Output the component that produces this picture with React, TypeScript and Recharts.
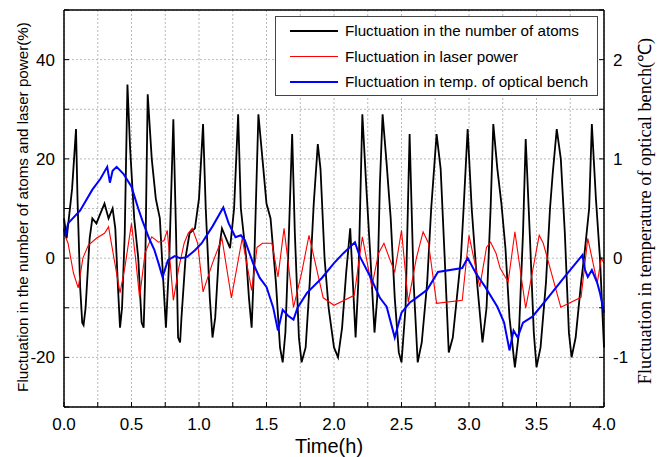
import React from "react";
import {
  LineChart,
  Line,
  XAxis,
  YAxis,
  CartesianGrid,
  Legend,
} from "recharts";

// time (h) and fluctuation (%)
const atomsTime = [
  0.0, 0.02, 0.04, 0.06, 0.089, 0.1, 0.12, 0.135, 0.145, 0.16, 0.19, 0.21, 0.24, 0.27, 0.3, 0.33, 0.36, 0.38, 0.4,
  0.415, 0.43, 0.45, 0.47, 0.49, 0.52, 0.55, 0.575, 0.59, 0.6, 0.62, 0.65, 0.68, 0.71, 0.73, 0.755, 0.78, 0.81,
  0.83, 0.845, 0.86, 0.87, 0.9, 0.93, 0.97, 1.0, 1.03, 1.05, 1.08, 1.1, 1.12, 1.15, 1.17, 1.2, 1.23, 1.26, 1.29,
  1.31, 1.35, 1.37, 1.39, 1.41, 1.44, 1.47, 1.5, 1.53, 1.57, 1.6, 1.62, 1.64, 1.66, 1.69, 1.71, 1.74, 1.76,
  1.79, 1.82, 1.85, 1.88, 1.9, 1.93, 1.96, 2.0, 2.03, 2.06, 2.09, 2.12, 2.14, 2.16, 2.18, 2.21, 2.24, 2.27,
  2.3, 2.32, 2.34, 2.36, 2.39, 2.42, 2.45, 2.48, 2.5, 2.53, 2.56, 2.59, 2.62, 2.65, 2.69, 2.72, 2.76, 2.79,
  2.82, 2.85, 2.88, 2.91, 2.94, 2.96, 2.99, 3.02, 3.06, 3.1, 3.13, 3.16, 3.18, 3.21, 3.24, 3.27, 3.3, 3.34,
  3.37, 3.4, 3.42, 3.45, 3.48, 3.5, 3.53, 3.57, 3.6, 3.62, 3.65, 3.68, 3.71, 3.74, 3.76, 3.79, 3.83, 3.86,
  3.89, 3.91, 3.94, 3.97, 4.0,
];
const atomsValue = [
  8, 4, 9, 14, 26, 12, -6, -13, -13.5, -10, 4, 8, 7, 9, 11, 8, 10, 6, -6,
  -14, -10, 5, 35, 22, 8, 0, -13, -14, -5, 33, 20, 12, 8, -2, -14, 0, 28,
  5, -16, -17, -12, 0, 5, 6, 12, 27, 10, -8, -16, -12, 2, 6, 4, 2, 10, 29,
  10, 0, -8, -14, 0, 29, 20, 11, 8, -5, -18, -21, -15, 0, 25, 5, -16, -21,
  -18, -5, 11, 23, 18, 0, -10, -18, -20, -14, -3, 6, -5, -16, -5, 29, 14, 0,
  -15, -8, 15, 29, 19, 8, -8, -19, -21, -10, 25, -5, -21, -17, -5, 10, 25, 18,
  0, -19, -16, -8, 0, 10, 26, 10, -5, -17, -10, 10, 27, 18, 11, 2, -12, -22,
  -15, 5, 24, 5, -15, -22, -18, -5, 10, 17, 26, 20, 5, -15, -20, -16, -5, 2,
  10, 27, 12, 0, -18,
];

const laserTime = [
  0.0, 0.03, 0.07, 0.105, 0.14, 0.18, 0.24, 0.3, 0.33, 0.37, 0.415, 0.45, 0.5, 0.53, 0.56, 0.6, 0.65, 0.7,
  0.74, 0.765, 0.79, 0.81, 0.85, 0.89, 0.92, 0.95, 0.99, 1.03, 1.1, 1.17, 1.24, 1.32, 1.39, 1.43, 1.47,
  1.54, 1.585, 1.63, 1.7, 1.76, 1.815, 1.87, 1.92, 2.0, 2.15, 2.21, 2.28, 2.33, 2.37, 2.41, 2.45, 2.5,
  2.55, 2.61, 2.66, 2.7, 2.76, 2.95, 3.0, 3.08, 3.13, 3.16, 3.2, 3.23, 3.29, 3.34, 3.42, 3.52, 3.55, 3.68,
  3.83, 3.88, 3.95, 3.98, 4.0,
];
const laserValue = [
  5, 3, -3, -6, 0, 2.6, 4, 5, 6.3, 0, -7, -2, 7, 0, -8, 1, 4.3, 3.2,
  3.5, 5.6, -2, -8.5, -2, 3, 5, 6, 3, -6.8, -1, 4, -8, 4, -6.5, 2.2, 3,
  3, -3.8, 6, -9.9, -3, 4.6, -2, -8, -9.5, -7.5, 4.3, -5.8, 1, 3, 0, -2.8, 5.6,
  -8.9, 0, 5.3, 3, -9.1, -8.5, 4.6, -5.8, 2.2, 3.2, 1, -2, -4.8, 5.3, -10.1, 4.6, 3, -9.9,
  -7.9, 4, -5, 0, -1,
];

// optical bench temperature (°C), right axis
const benchTime = [
  0.0, 0.01, 0.03, 0.12, 0.21, 0.27, 0.32, 0.34, 0.36, 0.39, 0.44, 0.5, 0.55, 0.58, 0.63, 0.67, 0.7, 0.73,
  0.77, 0.82, 0.86, 0.91, 0.97, 1.02, 1.1, 1.18, 1.22, 1.27, 1.31, 1.34, 1.4, 1.45, 1.5, 1.55, 1.585, 1.62,
  1.66, 1.7, 1.73, 1.8, 1.91, 2.0, 2.07, 2.155, 2.19, 2.27, 2.34, 2.39, 2.45, 2.5, 2.56, 2.61, 2.69, 2.77,
  2.95, 2.99, 3.05, 3.12, 3.21, 3.26, 3.3, 3.33, 3.36, 3.4, 3.47, 3.59, 3.69, 3.84, 3.86, 3.88, 3.91, 3.95,
  3.97, 4.0,
];
const benchValue = [
  0.3, 0.22, 0.35, 0.48, 0.69, 0.8, 0.92, 0.76, 0.88, 0.92, 0.85, 0.72, 0.5, 0.38, 0.2, 0.08, -0.05, -0.19,
  -0.02, 0.02, 0.0, 0.01, 0.08, 0.15, 0.32, 0.51, 0.35, 0.21, 0.23, 0.18, -0.05, -0.2, -0.29, -0.5, -0.73, -0.52,
  -0.58, -0.62, -0.5, -0.35, -0.2, -0.05, 0.05, 0.16, 0.02, -0.19, -0.4, -0.49, -0.8, -0.55, -0.45, -0.4, -0.32, -0.14,
  -0.1, 0.0, -0.15, -0.29, -0.49, -0.65, -0.93, -0.73, -0.8, -0.65, -0.59, -0.39, -0.22, 0.03, -0.12, -0.19, -0.12, -0.25,
  -0.35, -0.55,
];

const xTicks = [0, 0.25, 0.5, 0.75, 1, 1.25, 1.5, 1.75, 2, 2.25, 2.5, 2.75, 3, 3.25, 3.5, 3.75, 4];
const leftTicks = [-30, -20, -10, 0, 10, 20, 30, 40, 50];
const rightTicks = [-1.5, -1, -0.5, 0, 0.5, 1, 1.5, 2, 2.5];

const SERIES = [
  { name: "Fluctuation in the number of atoms", color: "#000000" },
  { name: "Fluctuation in laser power", color: "#ff0000" },
  { name: "Fluctuation in temp. of optical bench", color: "#0000ff" },
];

const atomsData = atomsTime.map((t, i) => ({ t, v: atomsValue[i] }));
const laserData = laserTime.map((t, i) => ({ t, v: laserValue[i] }));
const benchData = benchTime.map((t, i) => ({ t, v: benchValue[i] }));

const SANS = "'Liberation Sans', Arial, sans-serif";
const tickStyle = { fontSize: 17, fill: "#000", fontFamily: SANS };

function LegendBox() {
  return (
    <div
      style={{
        width: 323,
        height: 80,
        border: "1px solid #444",
        background: "#fff",
        fontFamily: SANS,
        fontSize: 15.2,
        color: "#000",
        boxSizing: "border-box",
        paddingTop: 1,
      }}
    >
      {SERIES.map((s) => (
        <div
          key={s.name}
          style={{ display: "flex", alignItems: "center", height: 25.5 }}
        >
          <span
            style={{
              display: "inline-block",
              marginLeft: 14,
              width: 48,
              height: s.color === "#0000ff" ? 2 : 1.5,
              background: s.color,
            }}
          />
          <span style={{ marginLeft: 7, whiteSpace: "nowrap" }}>{s.name}</span>
        </div>
      ))}
    </div>
  );
}

export default function App() {
  return (
    <div style={{ position: "absolute", left: 0, top: 0, width: 658, height: 457, background: "#fff" }}>
      <LineChart
        width={658}
        height={457}
        margin={{ top: 9, right: 24, bottom: 20, left: 24 }}
      >
        <CartesianGrid
          xAxisId="bottom"
          yAxisId="left"
          stroke="#b8b8b8"
          strokeDasharray="2 2"
        />
        <XAxis
          xAxisId="bottom"
          dataKey="t"
          type="number"
          domain={[0, 4]}
          ticks={xTicks}
          interval={0}
          tickFormatter={(v) => (Math.abs((v * 2) % 1) < 1e-6 ? v.toFixed(1) : "")}
          height={30}
          tickSize={-5}
          tickMargin={16}
          axisLine={{ stroke: "#000", strokeWidth: 1.5 }}
          tickLine={{ stroke: "#000" }}
          tick={tickStyle}
        />
        <XAxis
          xAxisId="top"
          orientation="top"
          dataKey="t"
          type="number"
          domain={[0, 4]}
          ticks={xTicks}
          interval={0}
          tickFormatter={() => ""}
          height={1}
          tickSize={-5}
          axisLine={{ stroke: "#000", strokeWidth: 1.5 }}
          tickLine={{ stroke: "#000" }}
          tick={tickStyle}
        />
        <YAxis
          yAxisId="left"
          type="number"
          domain={[-30, 50]}
          ticks={leftTicks}
          interval={0}
          tickFormatter={(v) => (v % 20 === 0 ? String(v) : "")}
          width={40}
          tickSize={-5}
          tickMargin={14}
          axisLine={{ stroke: "#000", strokeWidth: 1.5 }}
          tickLine={{ stroke: "#000" }}
          tick={tickStyle}
        />
        <YAxis
          yAxisId="right"
          orientation="right"
          type="number"
          domain={[-1.5, 2.5]}
          ticks={rightTicks}
          interval={0}
          tickFormatter={(v) => (Number.isInteger(v) ? String(v) : "")}
          width={30}
          tickSize={-5}
          tickMargin={14}
          axisLine={{ stroke: "#000", strokeWidth: 1.5 }}
          tickLine={{ stroke: "#000" }}
          tick={tickStyle}
        />
        <Legend
          layout="vertical"
          align="center"
          verticalAlign="middle"
          wrapperStyle={{ left: 275, top: 16, width: 323 }}
          content={() => <LegendBox />}
        />
        <Line
          xAxisId="bottom"
          yAxisId="left"
          data={atomsData}
          dataKey="v"
          name={SERIES[0].name}
          type="linear"
          stroke="#000"
          strokeWidth={1.8}
          dot={false}
          isAnimationActive={false}
        />
        <Line
          xAxisId="bottom"
          yAxisId="left"
          data={laserData}
          dataKey="v"
          name={SERIES[1].name}
          type="linear"
          stroke="#ff0000"
          strokeWidth={1.1}
          dot={false}
          isAnimationActive={false}
        />
        <Line
          xAxisId="bottom"
          yAxisId="right"
          data={benchData}
          dataKey="v"
          name={SERIES[2].name}
          type="linear"
          stroke="#0000ff"
          strokeWidth={2}
          dot={false}
          isAnimationActive={false}
        />
      </LineChart>
      <div
        style={{
          position: "absolute",
          left: 22,
          top: 207,
          transform: "translate(-50%, -50%) rotate(-90deg)",
          whiteSpace: "nowrap",
          fontFamily: SANS,
          fontSize: 15.2,
        }}
      >
        Fluctuation in the number of atoms and laser power(%)
      </div>
      <div
        style={{
          position: "absolute",
          left: 643,
          top: 211,
          transform: "translate(-50%, -50%) rotate(-90deg)",
          whiteSpace: "nowrap",
          fontFamily: "'Liberation Serif', 'Times New Roman', serif",
          fontSize: 18.3,
        }}
      >
        Fluctuation in temperature of optical bench(℃)
      </div>
      <div
        style={{
          position: "absolute",
          left: 329,
          top: 446,
          transform: "translate(-50%, -50%)",
          whiteSpace: "nowrap",
          fontFamily: SANS,
          fontSize: 20,
        }}
      >
        Time(h)
      </div>
    </div>
  );
}
